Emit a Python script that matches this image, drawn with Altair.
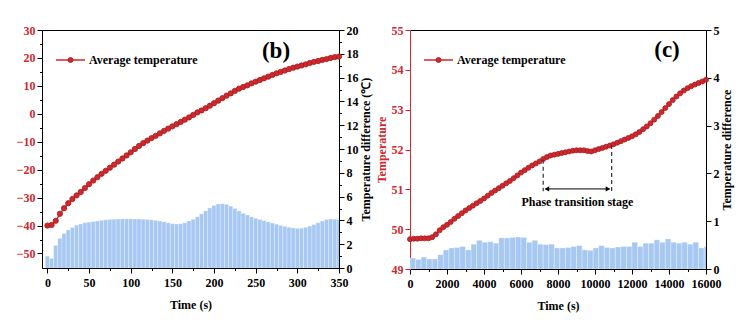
import altair as alt
import pandas as pd
import numpy as np

FONT = "Liberation Serif"
RED = "#d0282c"
RED_DARK = "#a51c1f"
BLUE = "#a6c8f2"

# ---------------- Panel (b) data ----------------
b_time = list(range(0, 351, 5))
b_avg_temp = [-40.0, -39.8, -38.3, -35.8, -33.8, -32.0, -30.5, -29.2, -28.0, -26.6,
              -25.2, -23.9, -22.7, -21.5, -20.4, -19.3, -18.2, -17.1, -16.0, -14.9,
              -13.8, -12.6, -11.5, -10.5, -9.6, -8.7, -7.9, -7.0, -6.1, -5.3,
              -4.5, -3.7, -2.9, -2.1, -1.3, -0.4, 0.5, 1.2, 2.0, 2.9,
              3.8, 4.7, 5.6, 6.5, 7.3, 8.2, 9.0, 9.6, 10.2, 10.9,
              11.5, 12.1, 12.7, 13.3, 13.9, 14.5, 15.0, 15.5, 16.0, 16.5,
              16.9, 17.3, 17.7, 18.2, 18.6, 18.9, 19.3, 19.6, 20.0, 20.3, 20.5]
b_temp_diff = [1.0, 0.8, 1.9, 2.5, 2.9, 3.2, 3.4, 3.6, 3.7, 3.8,
               3.85, 3.9, 3.95, 4.0, 4.05, 4.08, 4.1, 4.12, 4.13, 4.13,
               4.13, 4.12, 4.12, 4.1, 4.08, 4.05, 4.0, 3.95, 3.88, 3.8,
               3.72, 3.7, 3.72, 3.8, 3.95, 4.1, 4.3, 4.55, 4.8, 5.05,
               5.25, 5.38, 5.4, 5.35, 5.2, 5.0, 4.8, 4.6, 4.45, 4.3,
               4.18, 4.08, 3.98, 3.88, 3.78, 3.68, 3.58, 3.5, 3.42, 3.36,
               3.33, 3.35, 3.42, 3.52, 3.65, 3.8, 3.95, 4.08, 4.12, 4.1, 4.1]

# ---------------- Panel (c) data ----------------
c_time = list(range(0, 16001, 200))
c_avg_temp = [49.75, 49.76, 49.76, 49.77, 49.77, 49.77, 49.80, 49.87, 49.97, 50.05,
              50.11, 50.18, 50.26, 50.33, 50.40, 50.47, 50.53, 50.59, 50.65, 50.71,
              50.77, 50.84, 50.91, 50.97, 51.03, 51.09, 51.15, 51.21, 51.28, 51.35,
              51.42, 51.48, 51.54, 51.60, 51.65, 51.70, 51.76, 51.81, 51.85, 51.87,
              51.89, 51.91, 51.93, 51.95, 51.97, 51.98, 51.98, 51.98, 51.96, 51.95,
              51.98, 52.01, 52.04, 52.07, 52.10, 52.13, 52.17, 52.21, 52.25, 52.29,
              52.33, 52.38, 52.44, 52.51, 52.58, 52.66, 52.75, 52.84, 52.94, 53.04,
              53.14, 53.24, 53.33, 53.41, 53.48, 53.54, 53.59, 53.63, 53.67, 53.71, 53.75]
c_bar_time = list(range(0, 16000, 300))
c_temp_diff = [0.23, 0.20, 0.25, 0.21, 0.21, 0.30, 0.40, 0.44, 0.45, 0.47,
               0.40, 0.52, 0.60, 0.56, 0.57, 0.54, 0.65, 0.65, 0.66, 0.67,
               0.66, 0.56, 0.60, 0.52, 0.51, 0.52, 0.44, 0.44, 0.45, 0.47,
               0.49, 0.40, 0.39, 0.44, 0.49, 0.45, 0.44, 0.46, 0.47, 0.47,
               0.56, 0.47, 0.54, 0.54, 0.61, 0.56, 0.63, 0.56, 0.54, 0.56,
               0.52, 0.56, 0.44, 0.47]

# annotation (data units)
phase_start, phase_end = 7200, 10900
phase_top = [51.74, 52.11]
phase_bottom = 50.95
arrow_y = 51.01
phase_label = "Phase transition stage"
phase_label_x, phase_label_y = 9050, 50.68

legend_label = "Average temperature"

b_xticks = list(range(0, 351, 25))
b_lticks = list(range(-50, 31, 5))
b_rticks = list(range(0, 21, 1))
c_xticks = list(range(0, 16001, 1000))
c_lticks = [49 + 0.5 * i for i in range(13)]
c_rticks = [0.5 * i for i in range(11)]


def axis(values, major_test, orient, fmt, label_color="black", title=None,
         title_color="black", domain_color="black", title_padding=4, title_angle=None,
         title_baseline=None, label_padding=2):
    kw = dict(
        values=values,
        format=fmt,
        labelExpr=f"({major_test}) ? datum.label : ''",
        labelOverlap=False,
        labelFlush=False,
        tickSize={"condition": {"test": major_test, "value": 5}, "value": 2.5},
        orient=orient, grid=False,
        labelFont=FONT, labelFontWeight="bold", labelFontSize=12,
        labelColor=label_color, labelPadding=label_padding,
        tickColor=domain_color, domainColor=domain_color,
        titleFont=FONT, titleFontWeight="bold", titleFontSize=12,
        titleColor=title_color, titlePadding=title_padding,
        title=title,
    )
    if title_angle is not None:
        kw["titleAngle"] = title_angle
    if title_baseline is not None:
        kw["titleBaseline"] = title_baseline
    return alt.Axis(**kw)


def legend_layers():
    one = pd.DataFrame({"k": [0]})
    base = alt.Chart(one)
    rule = base.mark_rule(color=RED, strokeWidth=1.5).encode(
        x=alt.value(14), x2=alt.value(43), y=alt.value(30))
    dot = base.mark_circle(size=25, fill=RED, stroke=RED_DARK, strokeWidth=0.8, opacity=1).encode(
        x=alt.value(28.5), y=alt.value(30))
    txt = base.mark_text(align="left", baseline="middle", font=FONT, fontWeight="bold",
                         fontSize=12, color="black").encode(
        x=alt.value(47), y=alt.value(30), text=alt.value(legend_label))
    return [rule, dot, txt]


def panel_label(label, x, y):
    one = pd.DataFrame({"k": [0]})
    return alt.Chart(one).mark_text(font=FONT, fontWeight="bold", fontSize=23,
                                    align="center", baseline="middle", color="black").encode(
        x=alt.value(x), y=alt.value(y), text=alt.value(label))


# ---------------- Panel (b) ----------------
xb_scale = alt.Scale(domain=[-6.5, 350], nice=False, zero=False)
xb_axis = axis(b_xticks, "datum.value % 50 === 0", "bottom", "d", title="Time (s)",
               title_padding=11, label_padding=4)
ylb_scale = alt.Scale(domain=[-55.2, 30], nice=False, zero=False)
ylb_axis = axis(b_lticks, "datum.value % 10 === 0", "left", "d", label_color=RED)
yrb_scale = alt.Scale(domain=[0, 20], nice=False)
yrb_axis = axis(b_rticks, "datum.value % 2 === 0", "right", "d",
                title="Temperature difference (\u2103)", title_padding=2,
                title_angle=270, title_baseline="top")

df_b_bar = pd.DataFrame({"t": b_time, "d": b_temp_diff})
df_b_bar["t0"] = df_b_bar["t"] - 2.5
df_b_bar["t1"] = df_b_bar["t"] + 2.5
df_b_bar["zero"] = 0.0
df_b_line = pd.DataFrame({"t": b_time, "v": b_avg_temp})

bars_b = alt.Chart(df_b_bar).mark_rect(color=BLUE, stroke="white", strokeWidth=0.5,
                                       strokeOpacity=0.6, clip=True).encode(
    x=alt.X("t0:Q", scale=xb_scale, axis=xb_axis),
    x2="t1:Q",
    y=alt.Y("d:Q", scale=yrb_scale, axis=yrb_axis),
    y2="zero:Q",
)
line_b = alt.Chart(df_b_line).mark_line(color=RED, strokeWidth=1.5).encode(
    x=alt.X("t:Q", scale=xb_scale, axis=xb_axis),
    y=alt.Y("v:Q", scale=ylb_scale, axis=ylb_axis),
)
pts_b = alt.Chart(df_b_line).mark_circle(size=28, fill=RED, stroke=RED_DARK,
                                         strokeWidth=0.8, opacity=1).encode(
    x=alt.X("t:Q", scale=xb_scale, axis=xb_axis),
    y=alt.Y("v:Q", scale=ylb_scale, axis=ylb_axis),
)
inner_b = alt.layer(line_b, pts_b)
panel_b = alt.layer(bars_b, inner_b, *legend_layers(), panel_label("(b)", 234, 21)).resolve_scale(
    y="independent").properties(width=297, height=238)

# ---------------- Panel (c) ----------------
xc_scale = alt.Scale(domain=[0, 16000], nice=False, zero=False)
xc_axis = axis(c_xticks, "datum.value % 2000 === 0", "bottom", "d", title="Time (s)",
               title_padding=11, label_padding=4)
ylc_scale = alt.Scale(domain=[49, 55], nice=False, zero=False)
ylc_axis = axis(c_lticks, "datum.value % 1 === 0", "left", "d", label_color=RED,
                title="Temperature", title_color=RED, domain_color=RED, title_padding=3)
yrc_scale = alt.Scale(domain=[0, 5], nice=False)
yrc_axis = axis(c_rticks, "datum.value % 1 === 0", "right", "d",
                title="Temperature difference", title_padding=2,
                title_angle=270, title_baseline="top")

df_c_bar = pd.DataFrame({"t0": c_bar_time, "d": c_temp_diff})
df_c_bar["t1"] = df_c_bar["t0"] + 300
df_c_bar["zero"] = 0.0
df_c_line = pd.DataFrame({"t": c_time, "v": c_avg_temp})

bars_c = alt.Chart(df_c_bar).mark_rect(color=BLUE, stroke="white", strokeWidth=0.5,
                                       strokeOpacity=0.6, clip=True).encode(
    x=alt.X("t0:Q", scale=xc_scale, axis=xc_axis),
    x2="t1:Q",
    y=alt.Y("d:Q", scale=yrc_scale, axis=yrc_axis),
    y2="zero:Q",
)
line_c = alt.Chart(df_c_line).mark_line(color=RED, strokeWidth=1.5).encode(
    x=alt.X("t:Q", scale=xc_scale, axis=xc_axis),
    y=alt.Y("v:Q", scale=ylc_scale, axis=ylc_axis),
)
pts_c = alt.Chart(df_c_line).mark_circle(size=25, fill=RED, stroke=RED_DARK,
                                         strokeWidth=0.8, opacity=1).encode(
    x=alt.X("t:Q", scale=xc_scale, axis=xc_axis),
    y=alt.Y("v:Q", scale=ylc_scale, axis=ylc_axis),
)
df_dash = pd.DataFrame({"t": [phase_start, phase_end], "top": phase_top,
                        "bot": [phase_bottom, phase_bottom]})
dash_c = alt.Chart(df_dash).mark_rule(color="#333333", strokeWidth=1.2, strokeDash=[4, 3]).encode(
    x=alt.X("t:Q", scale=xc_scale, axis=xc_axis),
    y=alt.Y("top:Q", scale=ylc_scale, axis=ylc_axis),
    y2="bot:Q",
)
df_arrow = pd.DataFrame({"a": [phase_start + 120], "b": [phase_end - 120], "y": [arrow_y]})
arrow_line = alt.Chart(df_arrow).mark_rule(color="black", strokeWidth=1).encode(
    x=alt.X("a:Q", scale=xc_scale, axis=xc_axis),
    x2="b:Q",
    y=alt.Y("y:Q", scale=ylc_scale, axis=ylc_axis),
)
df_heads = pd.DataFrame({"t": [phase_start + 200, phase_end - 200],
                         "y": [arrow_y, arrow_y],
                         "s": ["triangle-left", "triangle-right"]})
heads = alt.Chart(df_heads).mark_point(filled=True, color="black", size=28, opacity=1).encode(
    x=alt.X("t:Q", scale=xc_scale, axis=xc_axis),
    y=alt.Y("y:Q", scale=ylc_scale, axis=ylc_axis),
    shape=alt.Shape("s:N", scale=alt.Scale(domain=["triangle-left", "triangle-right"],
                                            range=["triangle-left", "triangle-right"]),
                    legend=None),
)
df_lbl = pd.DataFrame({"t": [phase_label_x], "y": [phase_label_y], "s": [phase_label]})
lbl = alt.Chart(df_lbl).mark_text(font=FONT, fontWeight="bold", fontSize=12, color="black",
                                  align="center", baseline="middle").encode(
    x=alt.X("t:Q", scale=xc_scale, axis=xc_axis),
    y=alt.Y("y:Q", scale=ylc_scale, axis=ylc_axis),
    text="s:N",
)
inner_c = alt.layer(line_c, pts_c, dash_c, arrow_line, heads, lbl)
panel_c = alt.layer(bars_c, inner_c, *legend_layers(), panel_label("(c)", 257, 20)).resolve_scale(
    y="independent").properties(width=296, height=239)

chart = alt.hconcat(panel_b, panel_c, spacing=2).properties(
    padding={"left": 15, "top": 23, "right": 2, "bottom": 2},
    background="white",
).configure_view(stroke="black", strokeWidth=1).configure_axis(domainWidth=1, tickWidth=1)

chart.save("out.html", embed_options={"renderer": "svg", "actions": False})
